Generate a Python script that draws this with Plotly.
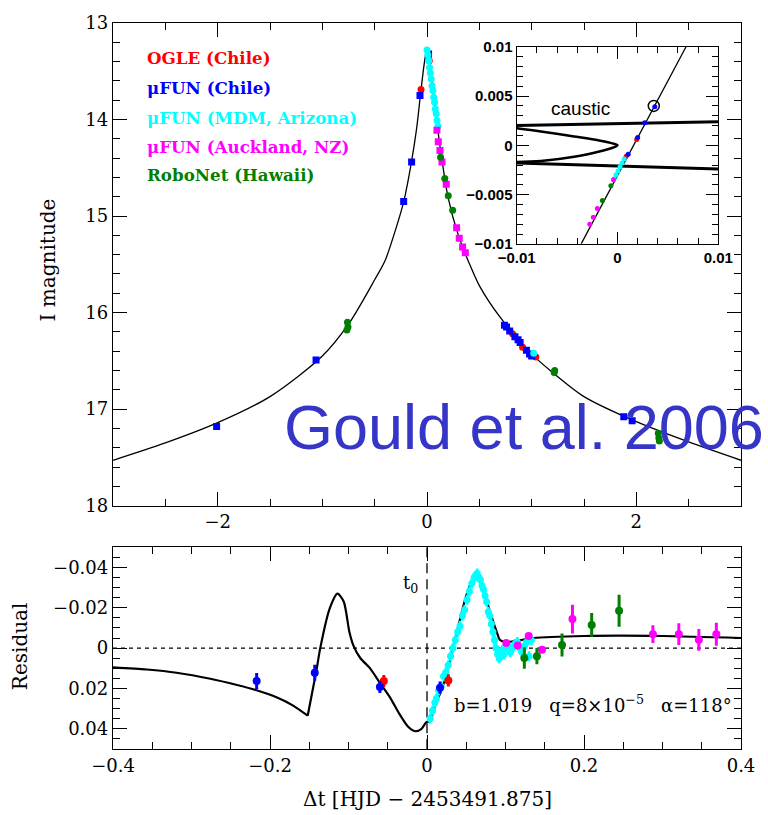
import plotly.graph_objects as go

# ---------------- data: top panel (I magnitude vs dt [days]) ----------------
model_t = [-3, -2.5, -2, -1.5, -1, -0.75, -0.5, -0.4, -0.3, -0.22, -0.15, -0.1, -0.06, -0.03, -0.01, 0,
           0.01, 0.03, 0.06, 0.1, 0.15, 0.2, 0.3, 0.4, 0.5, 0.7, 1.0, 1.2, 1.5, 2.0, 2.5, 3.0]
model_mag = [17.53, 17.35, 17.14, 16.87, 16.45, 16.12, 15.66, 15.46, 15.14, 14.84, 14.45, 14.1, 13.72, 13.45, 13.31, 13.27,
             13.3, 13.45, 13.72, 14.08, 14.47, 14.80, 15.2, 15.48, 15.72, 16.05, 16.43, 16.62, 16.87, 17.13, 17.34, 17.53]

ogle_t = [-0.057, 0.022, 0.817, 0.913, 1.04]
ogle_mag = [13.69, 13.39, 16.22, 16.36, 16.46]

fun_chile_t = [-2.01, -1.06, -0.223, -0.147, -0.067, 0.015, 0.74, 0.76, 0.79, 0.84, 0.87, 0.89, 0.95, 0.98, 1.0, 1.88, 1.96]
fun_chile_mag = [17.18, 16.49, 14.85, 14.44, 13.75, 13.32, 16.13, 16.15, 16.19, 16.25, 16.28, 16.31, 16.39, 16.43, 16.45, 17.08, 17.12]

mdm_t = [0.0, 0.008, 0.016, 0.024, 0.032, 0.040, 0.048, 0.056, 0.064, 0.072, 0.080, 0.088, 0.096, 0.104, 1.02]
mdm_mag = [13.28, 13.33, 13.39, 13.46, 13.52, 13.58, 13.65, 13.70, 13.77, 13.82, 13.89, 13.94, 14.01, 14.07, 16.42]

auck_t = [0.095, 0.108, 0.124, 0.143, 0.184, 0.283, 0.308, 0.34, 0.366]
auck_mag = [14.11, 14.23, 14.32, 14.44, 14.67, 15.12, 15.23, 15.32, 15.38]

robo_t = [-0.76, -0.755, -0.765, 0.13, 0.17, 0.203, 0.245, 1.215, 1.22, 2.21, 2.215, 2.22]
robo_mag = [16.10, 16.15, 16.18, 14.39, 14.61, 14.79, 14.94, 16.62, 16.60, 17.25, 17.30, 17.33]

# ---------------- data: inset (source plane) ----------------
traj_x = [-0.0036, 0.0068]
traj_y = [-0.01, 0.01]
caustic_top_x = [-0.01, 0.01]
caustic_top_y = [0.0020, 0.0024]
caustic_bot_x = [-0.01, 0.01]
caustic_bot_y = [-0.0018, -0.0024]
caustic_in_x = [-0.01, -0.0076, -0.0043, -0.0017, -0.0005, 0.0, -0.0005, -0.0017, -0.0043, -0.0076, -0.01]
caustic_in_y = [0.00173, 0.0014, 0.0009, 0.00047, 0.0002, 0.0, -0.00025, -0.0006, -0.00117, -0.0016, -0.0017]
circle_x = [0.0036]
circle_y = [0.0040]
in_ogle_x = [0.0019, 0.00086]
in_ogle_y = [0.0006, -0.0011]
in_chile_x = [0.0037, 0.0027, 0.0020, 0.00106]
in_chile_y = [0.0039, 0.0023, 0.0008, -0.0009]
in_mdm_x = [0.00066, 0.00045, 0.00025, 0.00005, -0.00015, -0.00033]
in_mdm_y = [-0.0014, -0.0018, -0.0022, -0.0026, -0.0030, -0.0034]
in_auck_x = [-0.0004, -0.0020, -0.0024, -0.00275]
in_auck_y = [-0.0035, -0.0064, -0.0073, -0.0080]
in_robo_x = [-0.00066, -0.0015]
in_robo_y = [-0.0041, -0.0056]

# ---------------- data: residual panel ----------------
# model before the caustic-crossing cusp
res_model_t_a = [-0.4, -0.357, -0.319, -0.276, -0.242, -0.217, -0.191, -0.170, -0.152]
res_model_a = [0.0095, 0.0106, 0.0122, 0.0152, 0.0183, 0.0209, 0.0245, 0.0286, 0.0335]
# model after the cusp
res_model_t_b = [-0.152, -0.141, -0.136, -0.124, -0.114, -0.106, -0.099,
                 -0.094, -0.085, -0.073, -0.06, -0.047, -0.035, -0.024, -0.015, -0.007, -0.001,
                 0.004, 0.01, 0.02, 0.03, 0.04, 0.05, 0.058, 0.0635, 0.07, 0.079, 0.0887, 0.093, 0.1,
                 0.12, 0.135, 0.2, 0.3, 0.4]
res_model_b = [0.0335, 0.0114, 0.0, -0.0196, -0.027, -0.023, -0.0082,
               -0.0015, 0.0049, 0.0098, 0.0172, 0.0245, 0.0327, 0.039, 0.0412, 0.040, 0.0368,
               0.036, 0.029, 0.019, 0.005, -0.011, -0.026, -0.034, -0.036, -0.032, -0.0196, -0.0082, -0.004, -0.003,
               -0.004, -0.005, -0.006, -0.006, -0.005]

r_ogle_t = [-0.055, 0.0272]
r_ogle = [0.0163, 0.016]
r_ogle_err = [0.003, 0.003]

r_chile_t = [-0.217, -0.143, -0.06, 0.0166]
r_chile = [0.0163, 0.0122, 0.0193, 0.0196]
r_chile_err = [0.004, 0.004, 0.003, 0.003]

r_mdm_t = [0.004, 0.007, 0.010, 0.012, 0.015, 0.018, 0.021, 0.024, 0.027, 0.030, 0.033, 0.036, 0.039, 0.042,
           0.045, 0.048, 0.051, 0.054, 0.057, 0.060, 0.062, 0.064, 0.066, 0.068, 0.070, 0.072, 0.074, 0.076,
           0.078, 0.080, 0.082, 0.084, 0.086, 0.088, 0.090, 0.092, 0.094, 0.096, 0.098, 0.100, 0.103, 0.106,
           0.109, 0.112, 0.115, 0.118, 0.121, 0.124, 0.127, 0.130, 0.133]
r_mdm = [0.035, 0.031, 0.027, 0.025, 0.021, 0.019, 0.014, 0.012, 0.0085, 0.004, 0.000, -0.004, -0.008, -0.011,
         -0.016, -0.019, -0.024, -0.028, -0.032, -0.035, -0.036, -0.037, -0.035, -0.034, -0.031, -0.029, -0.026,
         -0.023, -0.018, -0.016, -0.012, -0.008, -0.004, 0.000, 0.003, 0.005, 0.004, 0.001, 0.003, 0.001, -0.001,
         0.002, 0.000, -0.002, -0.003, 0.000, 0.002, -0.001, -0.003, 0.004, -0.004]

r_auck_t = [0.101, 0.1155, 0.1295, 0.1465, 0.1853, 0.2878, 0.3208, 0.3463, 0.3686]
r_auck = [-0.0025, -0.0013, -0.006, 0.0008, -0.0144, -0.0069, -0.0069, -0.0041, -0.0069]
r_auck_err = [0.0015, 0.0015, 0.0015, 0.0015, 0.0071, 0.0044, 0.0054, 0.0054, 0.0057]

r_robo_t = [0.124, 0.14, 0.172, 0.2098, 0.2447]
r_robo = [0.0049, 0.004, -0.0016, -0.0115, -0.0185]
r_robo_err = [0.0053, 0.004, 0.0057, 0.0059, 0.0079]

legend_labels = ["OGLE (Chile)", "μFUN (Chile)", "μFUN (MDM, Arizona)", "μFUN (Auckland, NZ)", "RoboNet (Hawaii)"]
colors = ["#ff0000", "#0000ff", "#00ffff", "#ff00ff", "#007f00"]

# ---------------- figure ----------------
W, H = 768, 815
ML, MR, MT, MB = 113, 27, 15, 66
PW, PH = W - ML - MR, H - MT - MB


def px2x(px):
    return (px - ML) / PW


def py2y(py):
    return 1 - (py - MT) / PH


fig = go.Figure()
SERIF = "DejaVu Serif"

# top panel
fig.add_trace(go.Scatter(x=model_t, y=model_mag, mode="lines",
                         line=dict(color="black", width=1.3, shape="spline", smoothing=0.8),
                         xaxis="x", yaxis="y", showlegend=False))
top_sets = [(ogle_t, ogle_mag, "circle"), (fun_chile_t, fun_chile_mag, "square"), (mdm_t, mdm_mag, "circle"),
            (auck_t, auck_mag, "square"), (robo_t, robo_mag, "circle")]
for (tx, ty, sym), c in zip(top_sets, colors):
    fig.add_trace(go.Scatter(x=tx, y=ty, mode="markers", marker=dict(color=c, size=7, symbol=sym, line=dict(width=0)),
                             xaxis="x", yaxis="y", showlegend=False))

# inset
fig.add_trace(go.Scatter(x=caustic_top_x, y=caustic_top_y, mode="lines", line=dict(color="black", width=3),
                         xaxis="x3", yaxis="y3", showlegend=False))
fig.add_trace(go.Scatter(x=caustic_bot_x, y=caustic_bot_y, mode="lines", line=dict(color="black", width=3),
                         xaxis="x3", yaxis="y3", showlegend=False))
fig.add_trace(go.Scatter(x=caustic_in_x, y=caustic_in_y, mode="lines",
                         line=dict(color="black", width=2.5, shape="spline", smoothing=1.0),
                         xaxis="x3", yaxis="y3", showlegend=False))
fig.add_trace(go.Scatter(x=traj_x, y=traj_y, mode="lines", line=dict(color="black", width=1.3),
                         xaxis="x3", yaxis="y3", showlegend=False))
inset_sets = [(in_ogle_x, in_ogle_y), (in_chile_x, in_chile_y), (in_mdm_x, in_mdm_y), (in_auck_x, in_auck_y),
              (in_robo_x, in_robo_y)]
for (ix, iy), c in zip(inset_sets, colors):
    fig.add_trace(go.Scatter(x=ix, y=iy, mode="markers", marker=dict(color=c, size=5, line=dict(width=0)),
                             xaxis="x3", yaxis="y3", showlegend=False))
fig.add_trace(go.Scatter(x=circle_x, y=circle_y, mode="markers",
                         marker=dict(symbol="circle-open", size=11, color="black", line=dict(width=1.5)),
                         xaxis="x3", yaxis="y3", showlegend=False))

# residual panel
for mt, mr in [(res_model_t_a, res_model_a), (res_model_t_b, res_model_b)]:
    fig.add_trace(go.Scatter(x=mt, y=mr, mode="lines",
                             line=dict(color="black", width=2.2, shape="spline", smoothing=0.7),
                             xaxis="x2", yaxis="y2", showlegend=False))
fig.add_trace(go.Scatter(x=r_mdm_t, y=r_mdm, mode="markers",
                         marker=dict(color=colors[2], size=7, line=dict(width=0)),
                         error_y=dict(type="constant", value=0.0025, thickness=2.5, width=0, color=colors[2]),
                         xaxis="x2", yaxis="y2", showlegend=False))
res_sets = [(r_ogle_t, r_ogle, r_ogle_err, colors[0]), (r_chile_t, r_chile, r_chile_err, colors[1]),
            (r_auck_t, r_auck, r_auck_err, colors[3]), (r_robo_t, r_robo, r_robo_err, colors[4])]
for tx, ty, te, c in res_sets:
    fig.add_trace(go.Scatter(x=tx, y=ty, mode="markers", marker=dict(color=c, size=8, line=dict(width=0)),
                             error_y=dict(type="data", array=te, thickness=3, width=0, color=c),
                             xaxis="x2", yaxis="y2", showlegend=False))

axis_common = dict(showline=True, linecolor="black", linewidth=1.3, mirror="ticks", ticks="inside",
                   tickcolor="black", tickwidth=1.3, showgrid=False, zeroline=False,
                   tickfont=dict(family=SERIF, size=18, color="black"))
inset_common = dict(showline=True, linecolor="black", linewidth=1.3, mirror="ticks", ticks="inside",
                    tickcolor="black", tickwidth=1.2, showgrid=False, zeroline=False,
                    tickfont=dict(family="Liberation Sans", size=15, color="black", weight="bold"))

fig.update_layout(
    width=W, height=H, autosize=False,
    margin=dict(l=ML, r=MR, t=MT, b=MB),
    paper_bgcolor="white", plot_bgcolor="white",
    xaxis=dict(domain=[0, 1], anchor="y", range=[-3, 3], tickmode="array",
               tickvals=[-2, 0, 2], ticktext=["−2", "0", "2"], ticklen=14,
               minor=dict(tickmode="linear", tick0=0, dtick=0.5, ticks="inside", ticklen=7, tickwidth=1.3,
                          tickcolor="black"),
               **axis_common),
    yaxis=dict(domain=[py2y(503), 1], anchor="x", range=[18, 13], tickmode="array",
               tickvals=[13, 14, 15, 16, 17, 18], ticktext=["13", "14", "15", "16", "17", "18"], ticklen=14,
               minor=dict(tickmode="linear", tick0=0, dtick=0.2, ticks="inside", ticklen=7, tickwidth=1.3,
                          tickcolor="black"),
               **axis_common),
    xaxis2=dict(domain=[0, 1], anchor="y2", range=[-0.4, 0.4], tickmode="array",
                tickvals=[-0.4, -0.2, 0, 0.2, 0.4], ticktext=["−0.4", "−0.2", "0", "0.2", "0.4"], ticklen=14,
                minor=dict(tickmode="linear", tick0=0, dtick=0.05, ticks="inside", ticklen=7, tickwidth=1.3,
                           tickcolor="black"),
                **axis_common),
    yaxis2=dict(domain=[0, py2y(545)], anchor="x2", range=[0.05, -0.05], tickmode="array",
                tickvals=[-0.04, -0.02, 0, 0.02, 0.04], ticktext=["−0.04", "−0.02", "0", "0.02", "0.04"],
                ticklen=14,
                minor=dict(tickmode="linear", tick0=0, dtick=0.005, ticks="inside", ticklen=7, tickwidth=1.3,
                           tickcolor="black"),
                **axis_common),
    xaxis3=dict(domain=[px2x(516.7), px2x(718.3)], anchor="y3", range=[-0.01, 0.01], tickmode="array",
                tickvals=[-0.01, 0, 0.01], ticktext=["−0.01", "0", "0.01"], ticklen=12,
                minor=dict(tickmode="linear", tick0=0, dtick=0.002, ticks="inside", ticklen=6, tickwidth=1.2,
                           tickcolor="black"),
                **inset_common),
    yaxis3=dict(domain=[py2y(238.3), py2y(39)], anchor="x3", range=[-0.01, 0.01], tickmode="array",
                tickvals=[-0.01, -0.005, 0, 0.005, 0.01], ticktext=["−0.01", "−0.005", "0", "0.005", "0.01"],
                ticklen=12,
                minor=dict(tickmode="linear", tick0=0, dtick=0.001, ticks="inside", ticklen=6, tickwidth=1.2,
                           tickcolor="black"),
                **inset_common),
)

# inset white background
fig.add_shape(type="rect", xref="paper", yref="paper", x0=px2x(516.7), x1=px2x(718.3), y0=py2y(238.3),
              y1=py2y(39), fillcolor="white", line=dict(width=0), layer="below")

# residual reference lines
fig.add_shape(type="line", xref="x2", yref="y2", x0=-0.4, x1=0.4, y0=0, y1=0,
              line=dict(color="black", width=1.2, dash="4px,4px"), layer="below")
fig.add_shape(type="line", xref="x2", yref="y2", x0=0, x1=0, y0=-0.05, y1=0.05,
              line=dict(color="black", width=1.3, dash="10px,6px"), layer="below")

# legend texts
leg_y = [50, 81, 111, 140, 169]
for lab, c, yy in zip(legend_labels, colors, leg_y):
    fig.add_annotation(x=px2x(145), y=py2y(yy), xref="paper", yref="paper", text="<b>" + lab + "</b>",
                       showarrow=False, xanchor="left", yanchor="middle",
                       font=dict(family=SERIF, size=16.7, color=c))

# axis titles
fig.add_annotation(x=px2x(48), y=py2y(255), xref="paper", yref="paper", text="I magnitude", textangle=-90,
                   showarrow=False, xanchor="center", yanchor="middle", font=dict(family=SERIF, size=20, color="black"))
fig.add_annotation(x=px2x(20), y=py2y(645), xref="paper", yref="paper", text="Residual", textangle=-90,
                   showarrow=False, xanchor="center", yanchor="middle", font=dict(family=SERIF, size=20, color="black"))
fig.add_annotation(x=0.5, y=py2y(800), xref="paper", yref="paper", text="Δt [HJD − 2453491.875]",
                   showarrow=False, xanchor="center", yanchor="middle", font=dict(family=SERIF, size=20, color="black"))

# inner labels
fig.add_annotation(x=-0.00364, y=0.0037, xref="x3", yref="y3", text="caustic", showarrow=False,
                   font=dict(family="Liberation Sans", size=19, color="black"))
fig.add_annotation(x=-0.021, y=-0.032, xref="x2", yref="y2", text="t<sub>0</sub>", showarrow=False,
                   font=dict(family=SERIF, size=18, color="black"))
fig.add_annotation(x=px2x(593), y=py2y(703), xref="paper", yref="paper",
                   text="b=1.019   q=8×10<sup>−5</sup>   α=118°", showarrow=False,
                   xanchor="center", yanchor="middle",
                   font=dict(family=SERIF, size=18, color="black"))
fig.add_annotation(x=px2x(282), y=py2y(423), xref="paper", yref="paper", text="Gould et al. 2006",
                   showarrow=False, xanchor="left", yanchor="middle",
                   font=dict(family="Liberation Sans", size=63, color="#3535c8"))

fig.write_html("out.html")
